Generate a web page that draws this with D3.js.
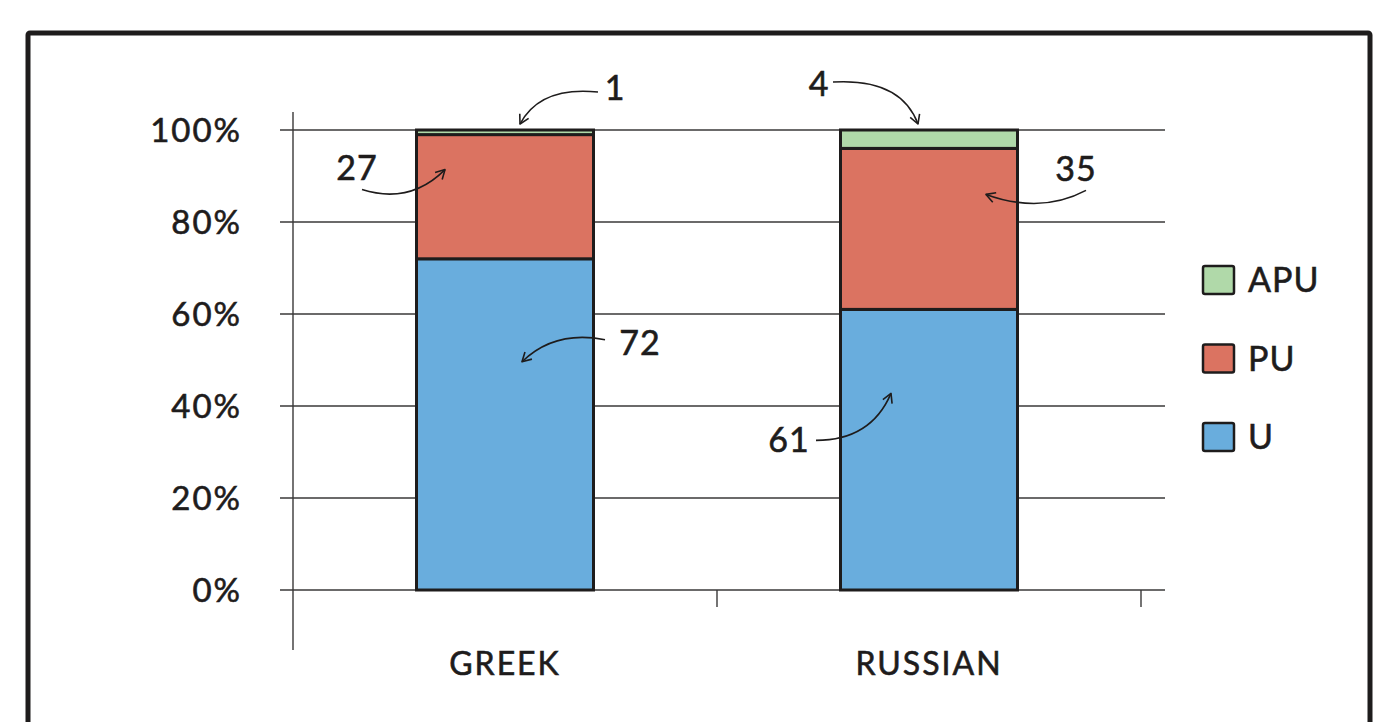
<!DOCTYPE html>
<html>
<head>
<meta charset="utf-8">
<script src="https://cdn.jsdelivr.net/npm/d3@7"></script>
<style>
  html, body { margin: 0; padding: 0; background: #fff; }
  svg { display: block; }
  text { font-family: Lato, "Open Sans", sans-serif; fill: #1e1c1c; stroke: #1e1c1c; stroke-width: 0.6px; }
</style>
</head>
<body>
<svg id="chart" width="1382" height="722"></svg>
<script>
// ---- data ----
const categories = ["GREEK", "RUSSIAN"];
const seriesNames = ["U", "PU", "APU"];           // stacking order bottom -> top
const seriesU   = [72, 61];
const seriesPU  = [27, 35];
const seriesAPU = [1, 4];
const yTickValues = [0, 0.2, 0.4, 0.6, 0.8, 1.0];
const yTickLabels = ["0%", "20%", "40%", "60%", "80%", "100%"];
const legendOrder = ["APU", "PU", "U"];
const colors = { U: "#69addd", PU: "#db7361", APU: "#b0d9a9" };

// ---- build table ----
const table = categories.map((c, i) => {
  const tot = seriesU[i] + seriesPU[i] + seriesAPU[i];
  return { cat: c, U: seriesU[i] / tot, PU: seriesPU[i] / tot, APU: seriesAPU[i] / tot,
           raw: { U: seriesU[i], PU: seriesPU[i], APU: seriesAPU[i] } };
});
const stacked = d3.stack().keys(seriesNames)(table);

const svg = d3.select("#chart");
const ink = "#1e1c1c";

// frame
svg.append("rect").attr("x", 28).attr("y", 33).attr("width", 1342).attr("height", 760)
  .attr("fill", "none").attr("stroke", ink).attr("stroke-width", 5).attr("rx", 2);

// scales
const x = d3.scaleBand().domain(categories).range([293, 1141]).paddingInner(0).paddingOuter(0);
const y = d3.scaleLinear().domain([0, 1]).range([590, 130]);
const barW = 177;

// gridlines
svg.append("g").selectAll("line").data(yTickValues).join("line")
  .attr("x1", 280).attr("x2", 1165)
  .attr("y1", d => y(d)).attr("y2", d => y(d))
  .attr("stroke", "#3a3838").attr("stroke-width", 1.4);

// y axis line
svg.append("line").attr("x1", 293).attr("x2", 293).attr("y1", 112).attr("y2", 650)
  .attr("stroke", "#3a3838").attr("stroke-width", 1.4);

// y tick labels
svg.append("g").selectAll("text").data(yTickValues).join("text")
  .attr("x", 242).attr("y", d => y(d)).attr("dy", "0.36em")
  .attr("text-anchor", "end").attr("font-size", 33).attr("letter-spacing", 2)
  .text((d, i) => yTickLabels[i]);

// x ticks at band boundaries
const xb = categories.map(c => x(c) + x.bandwidth());
svg.append("g").selectAll("line").data(xb).join("line")
  .attr("x1", d => d).attr("x2", d => d).attr("y1", 590).attr("y2", 607)
  .attr("stroke", "#3a3838").attr("stroke-width", 1.4);

// x labels
svg.append("g").selectAll("text").data(categories).join("text")
  .attr("x", d => x(d) + x.bandwidth() / 2).attr("y", 663).attr("dy", "0.36em")
  .attr("text-anchor", "middle").attr("font-size", 32).attr("letter-spacing", 2)
  .text(d => d);

// bars
const bx = d => x(d.data.cat) + x.bandwidth() / 2 - barW / 2;
svg.append("g").selectAll("g").data(stacked).join("g")
  .attr("fill", s => colors[s.key])
  .selectAll("rect").data(s => s).join("rect")
  .attr("x", bx).attr("width", barW)
  .attr("y", d => y(d[1])).attr("height", d => y(d[0]) - y(d[1]))
  .attr("stroke", ink).attr("stroke-width", 3);

// legend
const lg = svg.append("g").selectAll("g").data(legendOrder).join("g")
  .attr("transform", (d, i) => `translate(1203, ${266 + i * 78.5})`);
lg.append("rect").attr("width", 31).attr("height", 28).attr("rx", 2)
  .attr("fill", d => colors[d]).attr("stroke", ink).attr("stroke-width", 2.5);
lg.append("text").attr("x", 45).attr("y", 14).attr("dy", "0.36em")
  .attr("font-size", 34).attr("letter-spacing", 1).text(d => d);

// annotations (arrow from label to segment)
const defs = svg.append("defs");
defs.append("marker").attr("id", "ah").attr("viewBox", "-12 -8 16 16")
  .attr("markerWidth", 16).attr("markerHeight", 16).attr("markerUnits", "userSpaceOnUse")
  .attr("orient", "auto").attr("refX", 0).attr("refY", 0)
  .append("path").attr("d", "M-9,-5 L0,0 L-9,5").attr("fill", "none")
  .attr("stroke", ink).attr("stroke-width", 1.6).attr("stroke-linejoin", "round");

// per-annotation offsets relative to bar centre / segment top
const annots = [
  { ci: 0, key: "APU", tdx: 15,  tdy: -6,  lx: 110,  ly: -42, sx: 93,   sy: -38, cx: 35,  cy: -44 },
  { ci: 0, key: "PU",  tdx: -60, tdy: 35,  lx: -148, ly: 33,  sx: -143, sy: 55,  cx: -95, cy: 70 },
  { ci: 0, key: "U",   tdx: 17,  tdy: 103, lx: 135,  ly: 84,  sx: 100,  sy: 81,  cx: 50,  cy: 71 },
  { ci: 1, key: "APU", tdx: -11, tdy: -6,  lx: -110, ly: -46, sx: -96,  sy: -48, cx: -28, cy: -52 },
  { ci: 1, key: "PU",  tdx: 57,  tdy: 46,  lx: 147,  ly: 20,  sx: 157,  sy: 42,  cx: 112, cy: 66 },
  { ci: 1, key: "U",   tdx: -38, tdy: 84,  lx: -140, ly: 130, sx: -113, sy: 131, cx: -58, cy: 131 }
];
const ag = svg.append("g");
annots.forEach(a => {
  const layer = stacked.find(s => s.key === a.key)[a.ci];
  const cx0 = x(categories[a.ci]) + x.bandwidth() / 2;
  const ty0 = y(layer[1]);
  const tx = cx0 + a.tdx, ty = ty0 + a.tdy;
  const p = d3.path();
  p.moveTo(cx0 + a.sx, ty0 + a.sy);
  p.quadraticCurveTo(cx0 + a.cx, ty0 + a.cy, tx, ty);
  ag.append("path").attr("d", p.toString()).attr("fill", "none")
    .attr("stroke", ink).attr("stroke-width", 1.6).attr("marker-end", "url(#ah)");
  ag.append("text").attr("x", cx0 + a.lx).attr("y", ty0 + a.ly).attr("dy", "0.36em")
    .attr("text-anchor", "middle").attr("font-size", 34).attr("letter-spacing", 1)
    .text(table[a.ci].raw[a.key]);
});
</script>
</body>
</html>
